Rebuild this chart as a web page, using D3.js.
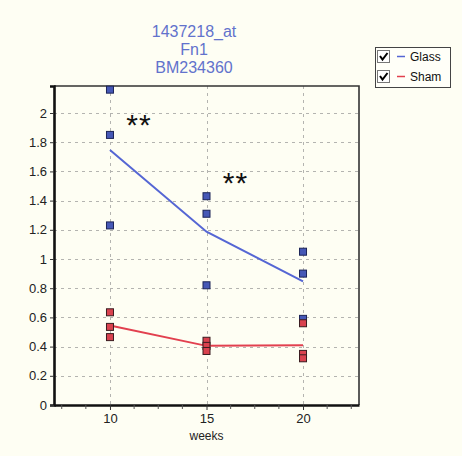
<!DOCTYPE html>
<html>
<head>
<meta charset="utf-8">
<script src="https://cdn.jsdelivr.net/npm/d3@7"></script>
<style>
  html, body { margin: 0; padding: 0; background: #fefef3; }
  svg { display: block; }
  text { font-family: "Liberation Sans", Arial, sans-serif; }
</style>
</head>
<body>
<svg id="chart" width="462" height="456"></svg>
<script>
// Fn1 expression by week, Glass vs Sham
const titleLines = ["1437218_at", "Fn1", "BM234360"];
const weeks = [10, 15, 20];
const glassValues = [
  [2.16, 1.85, 1.23],
  [1.43, 1.31, 0.82],
  [1.05, 0.90, 0.59]
];
const shamValues = [
  [0.635, 0.535, 0.465],
  [0.44, 0.405, 0.37],
  [0.56, 0.35, 0.32]
];
const seriesNames = ["Glass", "Sham"];
const yTicks = [0, 0.2, 0.4, 0.6, 0.8, 1, 1.2, 1.4, 1.6, 1.8, 2];
const xTicks = [10, 15, 20];
const xMinorTicks = [7.5, 8.75, 11.25, 12.5, 13.75, 16.25, 17.5, 18.75, 21.25, 22.5];
const xLabel = "weeks";
const significance = [{ week: 10, value: 1.98, text: "**" }, { week: 15, value: 1.58, text: "**" }];

const colors = {
  Glass: { line: "#5566d4", fill: "#4658b6", stroke: "#1c2458" },
  Sham: { line: "#e2404f", fill: "#d9424f", stroke: "#3a1c20" }
};

const svg = d3.select("#chart");
const plot = { left: 54, right: 359, top: 86, bottom: 405 };

const x = d3.scaleLinear().domain([7.1, 22.9]).range([plot.left, plot.right]);
const y = d3.scaleLinear().domain([0, 2.185]).range([plot.bottom, plot.top]);

// title
svg.append("g").selectAll("text").data(titleLines).join("text")
  .attr("x", 194)
  .attr("y", (d, i) => 37 + i * 18)
  .attr("text-anchor", "middle")
  .attr("font-size", 16)
  .attr("fill", "#6272cc")
  .text(d => d);

// grid
const grid = svg.append("g").attr("stroke", "#b4b4b0").attr("stroke-dasharray", "3,4").attr("stroke-width", 1);
grid.selectAll("line.h").data(yTicks.filter(d => d > 0)).join("line")
  .attr("class", "h")
  .attr("x1", plot.left).attr("x2", plot.right)
  .attr("y1", d => Math.round(y(d)) + 0.5).attr("y2", d => Math.round(y(d)) + 0.5);
grid.selectAll("line.v").data(xTicks).join("line")
  .attr("class", "v")
  .attr("y1", plot.top).attr("y2", plot.bottom)
  .attr("x1", d => Math.round(x(d)) + 0.5).attr("x2", d => Math.round(x(d)) + 0.5);

// frame (top/right)
svg.append("path")
  .attr("d", `M${plot.left},${plot.top}H${plot.right}V${plot.bottom}`)
  .attr("fill", "none").attr("stroke", "#333").attr("stroke-width", 1.6);

// y axis
const yAxis = svg.append("g")
  .attr("transform", `translate(${plot.left},0)`)
  .call(d3.axisLeft(y).tickValues(yTicks).tickSize(4).tickPadding(3).tickFormat(d3.format("~g")));
yAxis.select(".domain").attr("stroke", "#111").attr("stroke-width", 2.6);
yAxis.selectAll(".tick line").attr("stroke", "#333");
yAxis.selectAll("text").attr("font-size", 13).attr("fill", "#222")
  .attr("font-family", "'Liberation Sans', Arial, sans-serif");

// x axis
const xAxis = svg.append("g")
  .attr("transform", `translate(0,${plot.bottom})`)
  .call(d3.axisBottom(x).tickValues(xTicks).tickSize(5).tickPadding(4).tickSizeOuter(0));
xAxis.select(".domain").attr("stroke", "#111").attr("stroke-width", 2.6);
xAxis.selectAll(".tick line").attr("stroke", "#333");
xAxis.selectAll("text").attr("font-size", 13).attr("fill", "#222")
  .attr("font-family", "'Liberation Sans', Arial, sans-serif");
svg.append("g").selectAll("line").data(xMinorTicks).join("line")
  .attr("x1", d => x(d)).attr("x2", d => x(d))
  .attr("y1", plot.bottom).attr("y2", plot.bottom + 4)
  .attr("stroke", "#555");

svg.append("text")
  .attr("x", (plot.left + plot.right) / 2)
  .attr("y", 440)
  .attr("text-anchor", "middle")
  .attr("font-size", 12)
  .attr("fill", "#222")
  .text(xLabel);

// mean lines and points
const series = [
  { name: "Glass", values: glassValues },
  { name: "Sham", values: shamValues }
];
const line = d3.line().x(d => x(d.week)).y(d => y(d.mean));
series.forEach(s => {
  const means = weeks.map((w, i) => ({ week: w, mean: d3.mean(s.values[i]) }));
  svg.append("path").datum(means)
    .attr("d", line)
    .attr("fill", "none")
    .attr("stroke", colors[s.name].line)
    .attr("stroke-width", 2);
});
series.forEach(s => {
  const pts = weeks.flatMap((w, i) => s.values[i].map(v => ({ week: w, value: v })));
  svg.append("g").selectAll("rect").data(pts).join("rect")
    .attr("x", d => x(d.week) - 3.5)
    .attr("y", d => y(d.value) - 3.5)
    .attr("width", 7).attr("height", 7)
    .attr("fill", colors[s.name].fill)
    .attr("stroke", colors[s.name].stroke)
    .attr("stroke-width", 1);
});

// significance marks
svg.append("g").selectAll("text").data(significance).join("text")
  .attr("x", d => x(d.week) + 29)
  .attr("y", d => y(d.value) + 19)
  .attr("text-anchor", "middle")
  .attr("font-size", 30)
  .attr("font-family", "'DejaVu Sans', sans-serif")
  .attr("letter-spacing", 1)
  .attr("fill", "#111")
  .text(d => d.text);

// legend
const legend = svg.append("g").attr("transform", "translate(375,47)");
legend.append("rect")
  .attr("x", 0.5).attr("y", 0.5).attr("width", 75).attr("height", 40)
  .attr("fill", "#fffff8").attr("stroke", "#444").attr("stroke-width", 1);
const item = legend.selectAll("g.item").data(seriesNames).join("g")
  .attr("class", "item")
  .attr("transform", (d, i) => `translate(0,${i * 20})`);
item.append("rect")
  .attr("x", 2.5).attr("y", 3.5).attr("width", 12).attr("height", 12)
  .attr("fill", "#fff").attr("stroke", "#777").attr("stroke-width", 1);
item.append("path")
  .attr("d", "M5,9 L7.5,12.5 L12.5,6")
  .attr("fill", "none").attr("stroke", "#000").attr("stroke-width", 2);
item.append("line")
  .attr("x1", 22).attr("x2", 30).attr("y1", 9.5).attr("y2", 9.5)
  .attr("stroke", d => colors[d].line).attr("stroke-width", 1.5);
item.append("text")
  .attr("x", 35).attr("y", 14)
  .attr("font-size", 12)
  .attr("fill", "#111")
  .text(d => d);
</script>
</body>
</html>
